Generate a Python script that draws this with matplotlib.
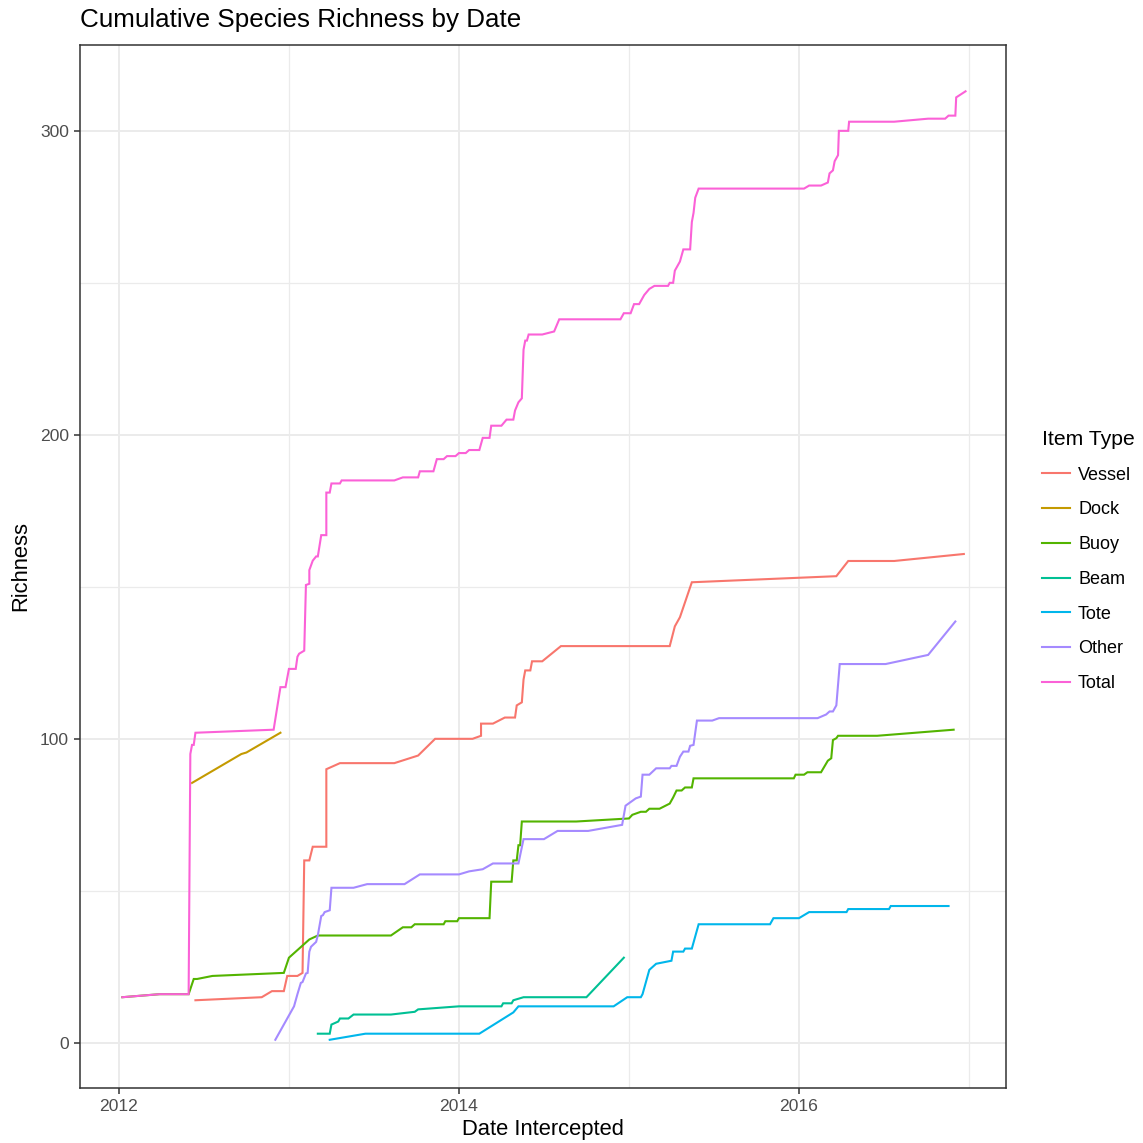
import matplotlib
matplotlib.use("Agg")
import matplotlib.pyplot as plt
from matplotlib.ticker import MultipleLocator

plt.rcParams['font.family'] = ['Liberation Sans', 'DejaVu Sans']

# date intercepted (decimal year) and cumulative richness
vessel_x = [2012.45, 2012.84, 2012.90, 2012.97, 2012.99, 2013.05, 2013.08, 2013.09, 2013.12, 2013.14,
            2013.22, 2013.22, 2013.30, 2013.62, 2013.76, 2013.86, 2014.08, 2014.13, 2014.13, 2014.20,
            2014.27, 2014.33, 2014.34, 2014.37, 2014.38, 2014.39, 2014.42, 2014.43, 2014.49, 2014.60,
            2015.24, 2015.27, 2015.30, 2015.37, 2016.22, 2016.29, 2016.56, 2016.97]
vessel_y = [14, 15, 17, 17, 22, 22, 23, 60, 60, 64.5,
            64.5, 90, 92, 92, 94.5, 100, 100, 101, 105, 105,
            107, 107, 111, 112, 119.5, 122.5, 122.5, 125.5, 125.5, 130.5,
            130.5, 137, 140, 151.5, 153.5, 158.5, 158.5, 160.8]

dock_x = [2012.43, 2012.72, 2012.75, 2012.95]
dock_y = [85.5, 95, 95.5, 102]

buoy_x = [2012.02, 2012.24, 2012.41, 2012.44, 2012.46, 2012.55, 2012.97, 2013.00, 2013.12, 2013.17,
          2013.60, 2013.67, 2013.72, 2013.74, 2013.91, 2013.92, 2013.99, 2014.00, 2014.18, 2014.19,
          2014.31, 2014.32, 2014.34, 2014.35, 2014.36, 2014.37, 2014.69, 2015.00, 2015.02, 2015.07,
          2015.10, 2015.12, 2015.18, 2015.24, 2015.26, 2015.28, 2015.31, 2015.33, 2015.37, 2015.38,
          2015.97, 2015.98, 2016.03, 2016.05, 2016.13, 2016.17, 2016.19, 2016.20, 2016.22, 2016.23,
          2016.46, 2016.91]
buoy_y = [15, 16, 16, 21, 21, 22, 23, 28, 34, 35.3,
          35.3, 38, 38, 39, 39, 40, 40, 41, 41, 53,
          53, 60, 60, 65, 65, 72.8, 72.8, 73.8, 75, 76,
          76, 77, 77, 78.7, 80.7, 83, 83, 84, 84, 87,
          87, 88.2, 88.2, 89, 89, 92.8, 93.6, 99.6, 100.2, 101,
          101, 103]

beam_x = [2013.17, 2013.24, 2013.25, 2013.27, 2013.29, 2013.30, 2013.35, 2013.38, 2013.60, 2013.74,
          2013.76, 2014.00, 2014.25, 2014.26, 2014.31, 2014.32, 2014.38, 2014.75, 2014.97]
beam_y = [3, 3, 6, 6.5, 7, 8, 8, 9.3, 9.3, 10.2,
          11, 12, 12, 13, 13, 14, 15, 15, 28]

tote_x = [2013.24, 2013.45, 2014.12, 2014.32, 2014.35, 2014.91, 2014.99, 2015.07, 2015.08, 2015.12,
          2015.16, 2015.25, 2015.26, 2015.32, 2015.33, 2015.37, 2015.41, 2015.83, 2015.85, 2016.00,
          2016.06, 2016.28, 2016.29, 2016.53, 2016.54, 2016.88]
tote_y = [1, 3, 3, 10, 12, 12, 15, 15, 16, 24,
          26, 27, 30, 30, 31, 31, 39, 39, 41, 41,
          43, 43, 44, 44, 45, 45]

other_x = [2012.92, 2013.01, 2013.03, 2013.05, 2013.07, 2013.08, 2013.10, 2013.11, 2013.12, 2013.13,
           2013.16, 2013.17, 2013.19, 2013.20, 2013.21, 2013.24, 2013.25, 2013.38, 2013.46, 2013.68,
           2013.77, 2014.00, 2014.06, 2014.14, 2014.20, 2014.35, 2014.38, 2014.50, 2014.58, 2014.76,
           2014.96, 2014.98, 2015.04, 2015.07, 2015.08, 2015.12, 2015.16, 2015.24, 2015.25, 2015.28,
           2015.30, 2015.32, 2015.35, 2015.36, 2015.38, 2015.40, 2015.49, 2015.53, 2016.11, 2016.16,
           2016.18, 2016.20, 2016.22, 2016.24, 2016.51, 2016.76, 2016.92]
other_y = [1, 10, 12, 16, 19.7, 20, 22.8, 23, 30, 31.6,
           33.2, 35.4, 41.7, 42, 43, 43.6, 51, 51, 52.2, 52.2,
           55.4, 55.4, 56.4, 57.1, 59, 59, 67, 67, 69.7, 69.7,
           71.7, 78, 80.4, 81, 88.2, 88.2, 90.3, 90.3, 91.1, 91.1,
           94.1, 95.8, 95.8, 97.7, 98, 106, 106, 106.8, 106.8, 108,
           109, 109, 111, 124.6, 124.6, 127.6, 138.6]

total_x = [2012.02, 2012.24, 2012.41, 2012.42, 2012.43, 2012.44, 2012.45, 2012.91, 2012.95, 2012.98,
           2013.00, 2013.04, 2013.05, 2013.06, 2013.09, 2013.10, 2013.12, 2013.12, 2013.14, 2013.16,
           2013.17, 2013.19, 2013.22, 2013.22, 2013.24, 2013.25, 2013.30, 2013.31, 2013.62, 2013.67,
           2013.76, 2013.77, 2013.85, 2013.87, 2013.91, 2013.93, 2013.98, 2014.00, 2014.04, 2014.06,
           2014.12, 2014.14, 2014.18, 2014.19, 2014.25, 2014.28, 2014.32, 2014.33, 2014.35, 2014.37,
           2014.38, 2014.39, 2014.40, 2014.41, 2014.49, 2014.56, 2014.59, 2014.95, 2014.97, 2015.01,
           2015.03, 2015.06, 2015.09, 2015.12, 2015.15, 2015.23, 2015.24, 2015.26, 2015.27, 2015.30,
           2015.32, 2015.36, 2015.37, 2015.38, 2015.39, 2015.41, 2016.03, 2016.06, 2016.13, 2016.17,
           2016.18, 2016.20, 2016.21, 2016.23, 2016.235, 2016.29, 2016.295, 2016.56, 2016.76, 2016.86,
           2016.88, 2016.92, 2016.925, 2016.98]
total_y = [15, 16, 16, 95, 98, 98, 102, 103, 117, 117,
           123, 123, 127, 128, 129, 150.6, 151, 155.5, 158.6, 160,
           160, 167, 167, 181, 181, 184, 184, 185, 185, 186,
           186, 188, 188, 192, 192, 193, 193, 194, 194, 195,
           195, 199, 199, 203, 203, 205, 205, 208, 210.7, 212,
           228, 231, 231, 233, 233, 234, 238, 238, 240, 240,
           243, 243, 246, 248, 249, 249, 250, 250, 254, 257,
           261, 261, 270, 273, 278, 281, 281, 282, 282, 283,
           286, 287, 290, 292, 300, 300, 303, 303, 304, 304,
           305, 305, 311, 313]

series = [
    ("Vessel", vessel_x, vessel_y, "#F8766D"),
    ("Dock", dock_x, dock_y, "#C49A00"),
    ("Buoy", buoy_x, buoy_y, "#53B400"),
    ("Beam", beam_x, beam_y, "#00C094"),
    ("Tote", tote_x, tote_y, "#00B6EB"),
    ("Other", other_x, other_y, "#A58AFF"),
    ("Total", total_x, total_y, "#FB61D7"),
]

fig = plt.figure(figsize=(11.43, 11.43), dpi=100)
ax = fig.add_axes([80 / 1143, 1 - 1087.5 / 1143, 926 / 1143, 1043 / 1143])

for name, xs, ys, col in series:
    ax.plot(xs, ys, color=col, lw=1.5, label=name, solid_joinstyle="miter")

ax.set_xlim(2011.771, 2017.218)
ax.set_ylim(-14.7, 328.4)
ax.xaxis.set_major_locator(MultipleLocator(2))
ax.xaxis.set_minor_locator(MultipleLocator(1))
ax.yaxis.set_major_locator(MultipleLocator(100))
ax.yaxis.set_minor_locator(MultipleLocator(50))
ax.grid(which="major", color="#EBEBEB", lw=1.4)
ax.grid(which="minor", color="#EBEBEB", lw=0.9)
ax.set_axisbelow(True)

for s in ax.spines.values():
    s.set_color("#333333")
    s.set_linewidth(1.1)
ax.tick_params(which="major", length=4.5, width=1.1, color="#333333",
               labelsize=12.6, labelcolor="#4D4D4D", pad=3.5)
ax.tick_params(which="minor", length=0)

ax.set_xlabel("Date Intercepted", fontsize=15.8, labelpad=4)
ax.set_ylabel("Richness", fontsize=15.8, labelpad=6)

fig.text(80 / 1143, 1 - 27 / 1143, "Cumulative Species Richness by Date",
         fontsize=18.7, ha="left", va="baseline")

leg = fig.legend(loc="center left", bbox_to_anchor=(1042 / 1143, 1 - 561 / 1143),
                 frameon=False, title="Item Type", title_fontsize=15.2, fontsize=13,
                 handlelength=1.55, handletextpad=0.45, labelspacing=0.98,
                 borderpad=0, borderaxespad=0, alignment="left")

fig.savefig("out.png", dpi=100)
